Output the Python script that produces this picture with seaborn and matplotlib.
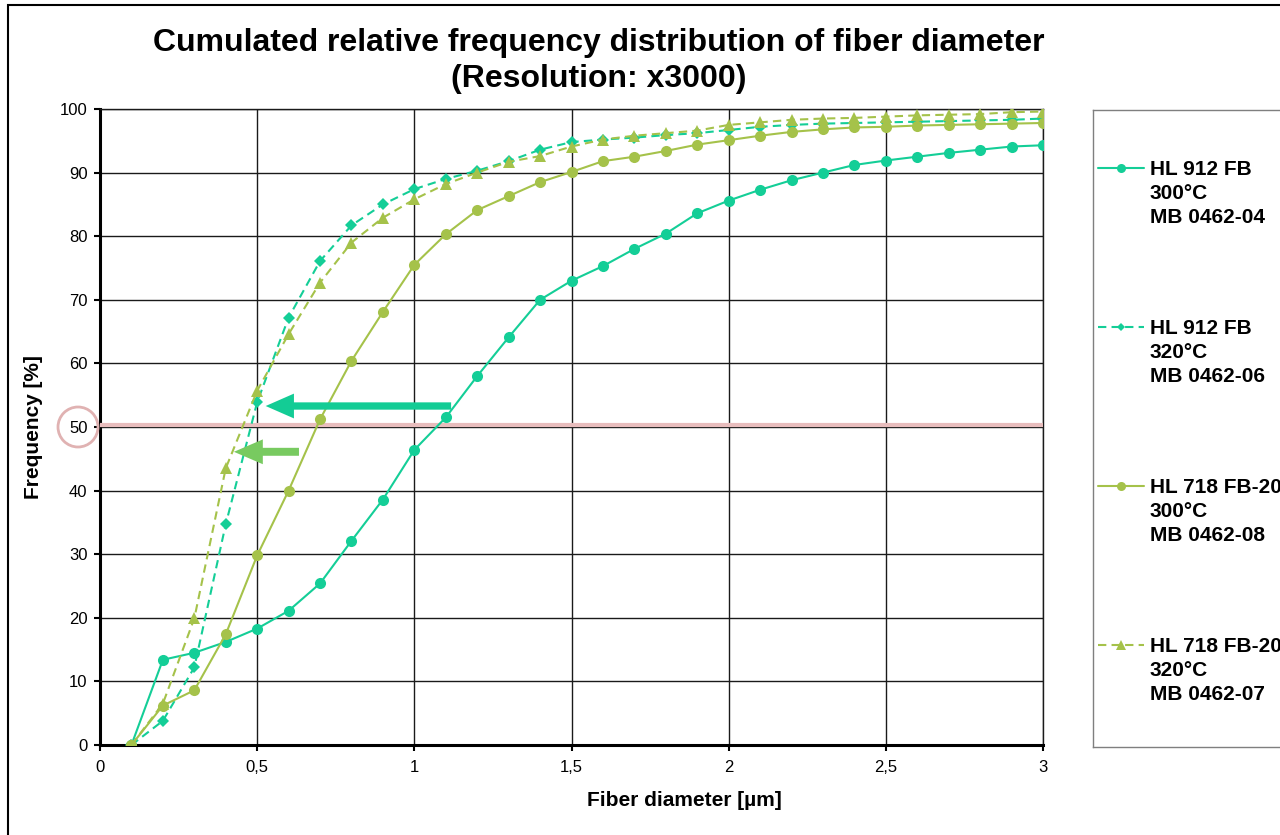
import pandas as pd
import matplotlib
matplotlib.use("Agg")
import matplotlib.pyplot as plt
import seaborn as sns
from matplotlib.patches import FancyArrow, Ellipse, Rectangle
from matplotlib.lines import Line2D
from matplotlib.ticker import FuncFormatter, MultipleLocator

# fiber diameter classes [µm]
diameter = [0.1, 0.2, 0.3, 0.4, 0.5, 0.6, 0.7, 0.8, 0.9, 1.0,
            1.1, 1.2, 1.3, 1.4, 1.5, 1.6, 1.7, 1.8, 1.9, 2.0,
            2.1, 2.2, 2.3, 2.4, 2.5, 2.6, 2.7, 2.8, 2.9, 3.0]

# cumulated relative frequency [%]
hl912_300 = [0, 13.4, 14.5, 16.2, 18.3, 21.1, 25.4, 32.1, 38.6, 46.4,
             51.5, 58.0, 64.1, 70.0, 73.0, 75.3, 78.0, 80.4, 83.6, 85.6,
             87.3, 88.8, 90.0, 91.2, 91.9, 92.5, 93.1, 93.6, 94.1, 94.3]
hl912_320 = [0, 3.8, 12.2, 34.7, 53.9, 67.2, 76.1, 81.7, 85.0, 87.4,
             89.0, 90.3, 91.8, 93.6, 94.8, 95.2, 95.5, 95.9, 96.2, 96.7,
             97.2, 97.5, 97.7, 97.8, 97.9, 98.0, 98.1, 98.2, 98.3, 98.5]
hl718_300 = [0, 6.2, 8.6, 17.4, 29.8, 40.0, 51.2, 60.4, 68.1, 75.5,
             80.3, 84.1, 86.3, 88.5, 90.1, 91.8, 92.5, 93.4, 94.4, 95.1,
             95.8, 96.4, 96.8, 97.1, 97.2, 97.4, 97.5, 97.6, 97.7, 97.8]
hl718_320 = [0, 6.5, 19.9, 43.5, 55.7, 64.6, 72.7, 79.0, 82.9, 85.8,
             88.2, 90.0, 91.7, 92.6, 94.1, 95.2, 95.8, 96.2, 96.6, 97.5,
             97.9, 98.3, 98.5, 98.6, 98.8, 99.0, 99.1, 99.2, 99.5, 99.6]

series_names = ["HL 912 FB\n300°C\nMB 0462-04",
                "HL 912 FB\n320°C\nMB 0462-06",
                "HL 718 FB-20\n300°C\nMB 0462-08",
                "HL 718 FB-20\n320°C\nMB 0462-07"]
series_values = [hl912_300, hl912_320, hl718_300, hl718_320]

teal = "#14CE97"
olive = "#A5C24A"
styles = [
    dict(color=teal, marker="o", markersize=8, linestyle="-"),
    dict(color=teal, marker="D", markersize=6, linestyle=(0, (4, 2.5))),
    dict(color=olive, marker="o", markersize=8, linestyle="-"),
    dict(color=olive, marker="^", markersize=8, linestyle=(0, (4, 2.5))),
]

df = pd.concat([pd.DataFrame({"diameter": diameter, "frequency": vals, "series": name})
                for name, vals in zip(series_names, series_values)])

sns.set_style("white")
plt.rcParams["font.family"] = ["Liberation Sans", "DejaVu Sans"]
plt.rcParams.update({"text.color": "black", "axes.labelcolor": "black",
                     "xtick.color": "black", "ytick.color": "black"})

fig = plt.figure(figsize=(12.8, 8.35), dpi=100)
ax = fig.add_axes([100 / 1280, 90 / 835, 943 / 1280, 636 / 835])

for name, st in zip(series_names, styles):
    sns.lineplot(data=df[df["series"] == name], x="diameter", y="frequency",
                 ax=ax, linewidth=1.5, markeredgewidth=0, legend=False,
                 zorder=4, **st)

ax.set_xlim(0, 3)
ax.set_ylim(0, 100)
ax.xaxis.set_major_locator(MultipleLocator(0.5))
ax.yaxis.set_major_locator(MultipleLocator(10))
ax.xaxis.set_major_formatter(FuncFormatter(lambda v, _: f"{v:g}".replace(".", ",")))
ax.grid(True, color="#1a1a1a", linewidth=1.0)
ax.set_axisbelow(True)
for side in ["left", "bottom"]:
    ax.spines[side].set_linewidth(2.2)
    ax.spines[side].set_color("black")
for side in ["top", "right"]:
    ax.spines[side].set_linewidth(1.0)
    ax.spines[side].set_color("#1a1a1a")
ax.tick_params(direction="out", length=4, width=1.5, color="black",
               labelsize=12, pad=5, left=True, bottom=True)
ax.tick_params(axis="x", pad=7)
ax.set_xlabel("Fiber diameter [µm]", fontsize=15, fontweight="bold")
ax.set_ylabel("Frequency [%]", fontsize=15, fontweight="bold")
ax.xaxis.set_label_coords(0.62, -0.072)
ax.yaxis.set_label_coords(-0.06, 0.5)

# 50 % reference line and highlight arrows
ax.axhline(50.3, color="#E8BDBD", linewidth=3, zorder=3)
ax.add_patch(FancyArrow(1.117, 53.3, 0.527 - 1.117, 0, width=1.15, head_width=3.9,
                        head_length=0.09, length_includes_head=True,
                        color="#13CC95", lw=0, zorder=5))
ax.add_patch(FancyArrow(0.633, 46.1, 0.426 - 0.633, 0, width=1.25, head_width=3.9,
                        head_length=0.092, length_includes_head=True,
                        color="#78CA60", lw=0, zorder=5))
fig.patches.append(Ellipse((78 / 1280, 1 - 427 / 835), 40 / 1280, 40 / 835,
                           transform=fig.transFigure, fill=False,
                           edgecolor="#E0B2B2", linewidth=2))

fig.text(599 / 1280, 1 - 61 / 835,
         "Cumulated relative frequency distribution of fiber diameter\n(Resolution: x3000)",
         ha="center", va="center", fontsize=23, fontweight="bold", linespacing=1.3)

# outer frame
fig.patches.append(Rectangle((8 / 1280, -0.1), 1.2, 1.1 - 5 / 835,
                             transform=fig.transFigure, fill=False,
                             edgecolor="black", linewidth=1.5))

# legend box (runs off the right edge, as in the original)
lax = fig.add_axes([1093 / 1280, 88 / 835, 207 / 1280, 637 / 835])
lax.set_xlim(0, 207)
lax.set_ylim(637, 0)
lax.set_xticks([])
lax.set_yticks([])
for s in lax.spines.values():
    s.set_color("#7f7f7f")
    s.set_linewidth(1.0)
for i, (name, st) in enumerate(zip(series_names, styles)):
    y0 = 58 + i * 159
    lax.add_line(Line2D([5, 51], [y0, y0], color=st["color"], linestyle=st["linestyle"],
                        linewidth=1.5))
    lax.add_line(Line2D([28], [y0], color=st["color"], marker=st["marker"],
                        markersize=st["markersize"] - 1.5, markeredgewidth=0))
    for j, line in enumerate(name.split("\n")):
        lax.text(57, y0 + 7 + j * 24, line, fontsize=15, fontweight="bold",
                 va="baseline", ha="left")

fig.savefig("out.png", dpi=100)
